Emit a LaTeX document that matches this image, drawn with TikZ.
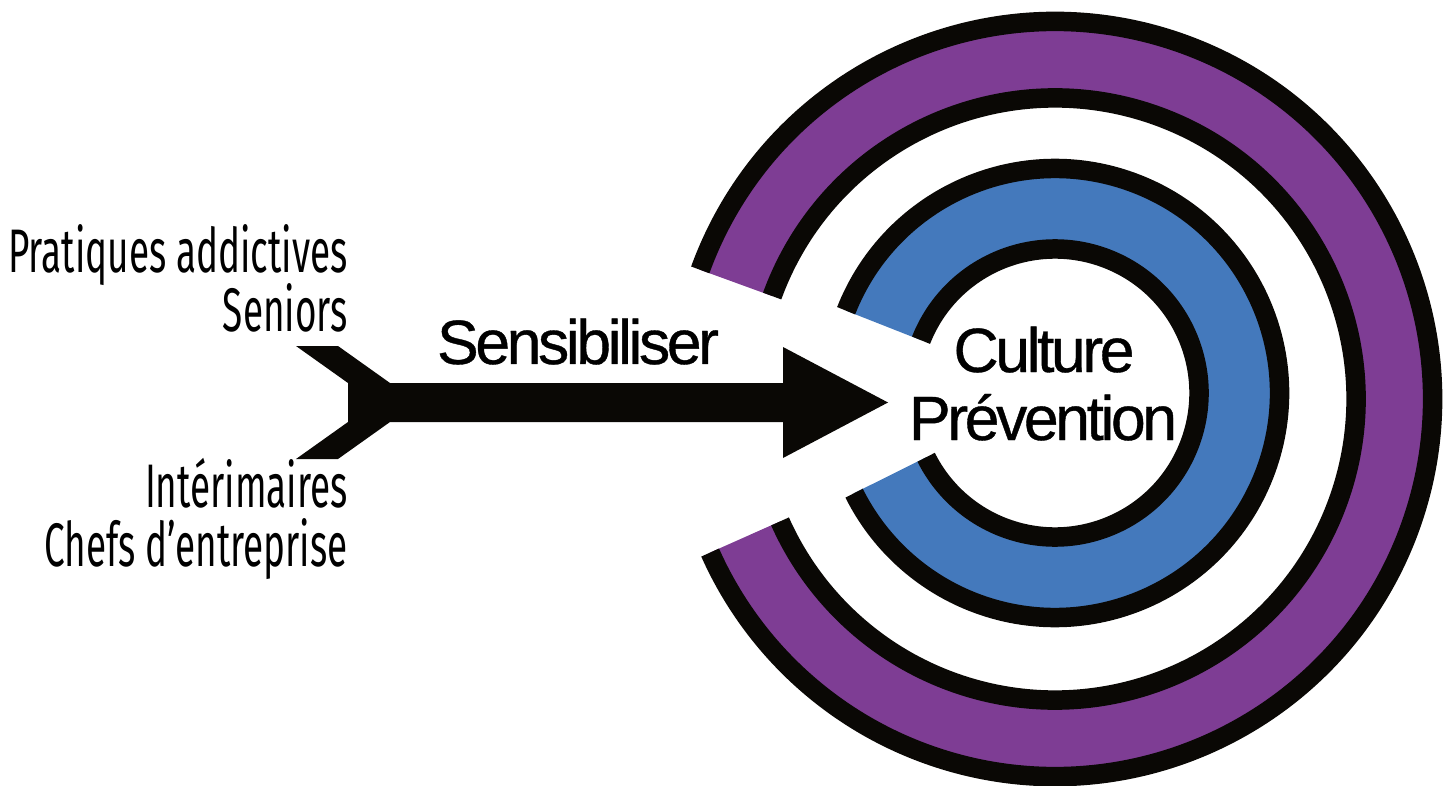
\documentclass[tikz,border=0pt]{standalone}
\usepackage{fontspec}
\setmainfont{Liberation Sans}
\newfontfamily\labelfont[FakeStretch=0.6]{Fira Sans}
\newfontfamily\titlefont[LetterSpace=-5.5, FakeBold=0.6]{Liberation Sans}
\usepackage{xcolor}
\usetikzlibrary{calc}
\definecolor{ringpurple}{HTML}{7E3D94}
\definecolor{ringblue}{HTML}{4479BC}
\definecolor{inkblack}{HTML}{0A0805}
\tikzset{
	ringline/.style={draw=inkblack, line width=0.39cm, line cap=butt},
	sidelabel/.style={anchor=base east, inner sep=0pt, font=\labelfont\fontsize{35}{36}\selectfont},
	bigtext/.style={anchor=base, inner sep=0pt, font=\titlefont\fontsize{35.6}{36}\selectfont}
}

\begin{document}
\begin{tikzpicture}[x=0.02cm, y=0.02cm]
        \useasboundingbox (0, 0) rectangle (1452, 785);
        \coordinate (c_purple) at (1055, 386);
        \coordinate (c_blue) at (1055, 392);
        % outer ring
        \fill[ringpurple] (c_purple) ++(160:377.5) arc[start angle=160, end angle=-156, radius=377.5]
            -- ($(c_purple)+(-156:301)$) arc[start angle=-156, end angle=160, radius=301] -- cycle;
        \draw[ringline] (c_purple) ++(160:377.5) arc[start angle=160, end angle=-156, radius=377.5];
        \draw[ringline] (c_purple) ++(160:301) arc[start angle=160, end angle=-156, radius=301];
        % inner ring
        \fill[ringblue] (c_blue) ++(158.5:224.5) arc[start angle=158.5, end angle=-153.5, radius=224.5]
            -- ($(c_blue)+(-153.5:144)$) arc[start angle=-153.5, end angle=158.5, radius=144] -- cycle;
        \draw[ringline] (c_blue) ++(158.5:224.5) arc[start angle=158.5, end angle=-153.5, radius=224.5];
        \draw[ringline] (c_blue) ++(158.5:144) arc[start angle=158.5, end angle=-153.5, radius=144];
        % arrow
        \coordinate (tail) at (348, 382.5);
        \coordinate (tip) at (888, 382.5);
        \fill[inkblack] (tail) -- ++(0, 19.5) -- ++(-52, 37) -- ++(42, 0) -- ++(52, -37)
            -- ($(tip)+(-105, 19.5)$) -- ++(0, 36) -- (tip) -- ++(-105, -55.5) -- ++(0, 36)
            -- ($(tail)+(42, -19.5)$) -- ++(-52, -37) -- ++(-42, 0) -- ++(52, 37) -- cycle;
        \node[bigtext] (sens) at (578, 421) {Sensibiliser};
        \node[bigtext] (culture) at (1044, 413) {Culture};
        \node[bigtext] (prev) at (1043, 345) {Prévention};
        \node[sidelabel] (pratiques) at (348, 512) {Pratiques addictives};
        \node[sidelabel] (seniors) at (348, 454) {Seniors};
        \node[sidelabel] (interim) at (348, 278) {Intérimaires};
        \node[sidelabel] (chefs) at (348, 219) {Chefs d’entreprise};
\end{tikzpicture}
\end{document}
